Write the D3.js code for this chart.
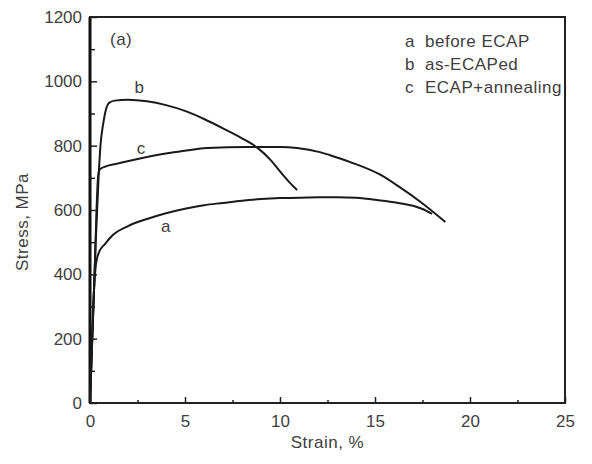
<!DOCTYPE html>
<html>
<head>
<meta charset="utf-8">
<script src="https://cdn.jsdelivr.net/npm/d3@7"></script>
<style>
  body { margin: 0; background: #fff; }
  text { font-family: 'Liberation Sans', Arial, sans-serif; fill: #404040; }
  .label { font-size: 17px; letter-spacing: 0.5px; }
</style>
</head>
<body>
<div id="chart"></div>
<script>
/* Data: [strain %, stress MPa] */
const curveA = [
  [0, 0], [0.12, 220], [0.22, 360], [0.3, 425], [0.38, 452], [0.5, 472],
  [0.8, 495], [1.2, 522], [2, 550], [3, 572], [4, 590], [5, 604],
  [6, 615], [7, 622], [8, 629], [9, 634], [10, 637], [11, 638],
  [12, 640], [13, 640], [14, 638], [15, 632], [16, 624], [17, 613],
  [17.5, 603], [18.0, 588]
];
const curveB = [
  [0, 0], [0.15, 250], [0.3, 500], [0.45, 700], [0.55, 800], [0.7, 870],
  [0.85, 915], [1.0, 933], [1.3, 940], [2, 943], [3, 938], [4, 926],
  [5, 908], [6, 883], [7, 854], [8, 823], [8.8, 794], [9.5, 756],
  [10, 720], [10.5, 686], [10.9, 662]
];
const curveC = [
  [0, 0], [0.12, 200], [0.25, 420], [0.35, 610], [0.42, 700], [0.5, 725],
  [0.8, 735], [1.5, 745], [3, 765], [4.5, 780], [6.2, 793], [8.3, 796],
  [10, 796], [10.9, 793], [12.1, 780], [12.6, 771], [13.7, 749],
  [15.3, 709], [16.3, 671], [17.4, 625], [18.7, 563]
];
const series = [
  { key: 'a', values: curveA, label: [4.0, 532] },
  { key: 'b', values: curveB, label: [2.6, 965] },
  { key: 'c', values: curveC, label: [2.7, 775] }
];
const legendItems = [
  ['a', 'before ECAP'],
  ['b', 'as-ECAPed'],
  ['c', 'ECAP+annealing']
];
const xTicks = [0, 5, 10, 15, 20, 25];
const xMinor = [2.5, 7.5, 12.5, 17.5, 22.5];
const yTicks = [0, 200, 400, 600, 800, 1000, 1200];
const yMinor = [100, 300, 500, 700, 900, 1100];

const width = 592;
const height = 464;
const margin = { top: 17, right: 27, bottom: 61, left: 90 };
const iw = width - margin.left - margin.right;
const ih = height - margin.top - margin.bottom;

const x = d3.scaleLinear().domain([0, 25]).range([0, iw]);
const y = d3.scaleLinear().domain([0, 1200]).range([ih, 0]);

const svg = d3
  .select('#chart')
  .append('svg')
  .attr('width', width)
  .attr('height', height);

const g = svg
  .append('g')
  .attr('transform', `translate(${margin.left}, ${margin.top})`);

// ticks pointing inward
const styleAxis = (sel) => {
  sel.select('.domain').remove();
  sel.selectAll('line').attr('stroke', '#222').attr('stroke-width', 1.5);
  sel.selectAll('text').style('font-size', '17px').attr('fill', '#404040');
};

g.append('g')
  .attr('transform', `translate(0, ${ih})`)
  .call(d3.axisBottom(x).tickValues(xTicks).tickSize(-6).tickPadding(12).tickFormat(d3.format('d')))
  .call(styleAxis);
g.append('g')
  .attr('transform', `translate(0, ${ih})`)
  .call(d3.axisBottom(x).tickValues(xMinor).tickSize(-3).tickFormat(''))
  .call(styleAxis);
g.append('g')
  .call(d3.axisLeft(y).tickValues(yTicks).tickSize(-7).tickPadding(8).tickFormat(d3.format('d')))
  .call(styleAxis);
g.append('g')
  .call(d3.axisLeft(y).tickValues(yMinor).tickSize(-5).tickFormat(''))
  .call(styleAxis);

// frame
g.append('rect')
  .attr('width', iw)
  .attr('height', ih)
  .attr('fill', 'none')
  .attr('stroke', '#222')
  .attr('stroke-width', 2);
g.append('line')
  .attr('y1', 0)
  .attr('y2', ih)
  .attr('stroke', '#111')
  .attr('stroke-width', 3);

// curves
const line = d3
  .line()
  .x((d) => x(d[0]))
  .y((d) => y(d[1]))
  .curve(d3.curveMonotoneX);

g.selectAll('path.curve')
  .data(series)
  .join('path')
  .attr('class', 'curve')
  .attr('d', (d) => line(d.values))
  .attr('fill', 'none')
  .attr('stroke', '#1a1a1a')
  .attr('stroke-width', 2);

g.selectAll('text.curve-label')
  .data(series)
  .join('text')
  .attr('class', 'curve-label label')
  .attr('x', (d) => x(d.label[0]))
  .attr('y', (d) => y(d.label[1]))
  .attr('text-anchor', 'middle')
  .text((d) => d.key);

g.append('text')
  .attr('class', 'label')
  .attr('x', 20)
  .attr('y', 28)
  .text('(a)');

// legend
const legend = g
  .selectAll('g.legend')
  .data(legendItems)
  .join('g')
  .attr('class', 'legend')
  .attr('transform', (d, i) => `translate(315, ${30 + i * 23})`);
legend.append('text').attr('class', 'label').text((d) => d[0]);
legend.append('text').attr('class', 'label').attr('x', 20).text((d) => d[1]);

// axis titles
svg.append('text')
  .attr('class', 'label')
  .attr('x', margin.left + iw / 2)
  .attr('y', 448)
  .attr('text-anchor', 'middle')
  .text('Strain, %');
svg.append('text')
  .attr('class', 'label')
  .attr('transform', 'translate(28, 222) rotate(-90)')
  .attr('text-anchor', 'middle')
  .text('Stress, MPa');
</script>
</body>
</html>
